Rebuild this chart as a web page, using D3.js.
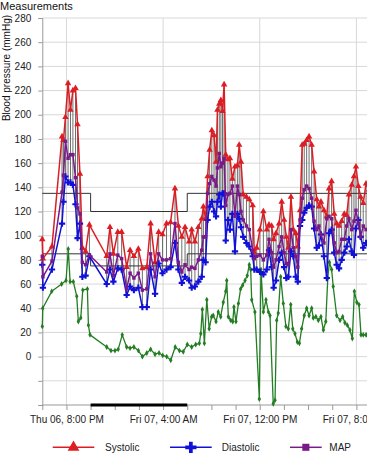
<!DOCTYPE html>
<html><head><meta charset="utf-8">
<script src="https://cdn.jsdelivr.net/npm/d3@7"></script>
<style>html,body{margin:0;padding:0;background:#fff;overflow:hidden}text{font-family:"Liberation Sans",Arial,sans-serif}</style>
</head><body><svg id="c" width="367" height="459"></svg>
<script>
// ---------- data ----------
const startTime = [2014, 2, 6, 18, 0]; // Thu 06, 6:00 PM
const bpMinutes = [0,3,48,98,105,115,128,140,152,165,175,187,199,215,234,320,336,353,375,394,419,436,455,477,497,519,538,560,578,597,617,637,659,676,693,709,729,742,758,775,792,800,811,821,831,842,853,863,870,879,887,895,903,911,922,932,944,957,969,978,987,998,1014,1028,1045,1053,1065,1081,1098,1115,1126,1139,1149,1161,1176,1189,1201,1212,1222,1235,1247,1259,1269,1280,1291,1301,1313,1325,1338,1350,1363,1374,1384,1399,1413,1424,1437,1450,1462,1474,1487,1500,1512,1523,1537,1548,1558,1570,1581,1594,1608,1622];
const systolic = [97,81,91,182,179,198,226,204,220,222,192,151,90,87,109,83,107,85,103,103,74,88,83,89,73,74,110,78,103,101,110,111,139,108,99,107,95,105,95,107,114,124,114,149,171,187,183,161,204,209,212,203,225,167,163,164,147,157,158,175,161,134,132,130,125,86,90,105,120,105,109,108,97,102,110,128,113,99,90,132,105,102,91,121,175,176,179,182,175,153,130,124,128,121,116,139,145,118,110,108,112,118,117,134,142,149,157,141,132,127,143,138];
const diastolic = [76,57,72,110,128,149,144,144,142,126,98,110,66,67,83,60,72,62,73,72,51,58,55,57,41,41,72,52,77,69,72,74,94,72,61,66,63,57,58,62,66,80,78,113,124,128,120,116,128,134,124,135,135,96,113,105,118,87,118,114,107,99,94,91,83,72,72,70,68,72,88,74,57,63,80,86,74,65,66,87,83,66,62,108,113,119,123,125,124,106,90,92,101,83,65,102,105,86,76,73,80,86,91,97,87,84,106,113,99,90,94,92];
const mapValues = [83,66,79,136,150,178,164,167,167,148,123,118,78,76,84,70,85,67,84,81,56,69,65,69,55,56,85,66,85,80,80,81,110,78,70,76,72,74,73,80,88,99,99,135,143,149,146,141,156,168,157,160,164,125,134,135,141,116,141,134,120,113,108,105,88,81,83,84,80,84,97,86,74,80,91,99,86,77,76,105,90,83,74,113,131,138,141,139,131,112,105,108,101,94,114,116,114,94,86,87,97,97,108,114,105,112,121,110,99,108,105,108];
const greenMinutes = [0,2,47,96,118,129,138,154,171,179,191,201,224,229,237,320,341,361,377,397,419,436,455,477,497,519,538,560,580,598,618,638,660,681,700,720,742,762,780,787,795,805,817,829,841,849,863,874,886,899,911,916,924,936,946,952,962,974,985,995,1007,1018,1028,1035,1040,1056,1078,1086,1098,1111,1123,1131,1147,1156,1164,1172,1184,1197,1210,1222,1234,1244,1255,1267,1277,1288,1301,1313,1325,1338,1346,1359,1371,1384,1396,1408,1418,1426,1437,1445,1462,1479,1492,1503,1515,1528,1540,1550,1562,1573,1583,1594,1608,1620];
const greenValues = [25,40,54,60,63,89,62,62,50,29,32,55,56,26,18,8,5,5,6,18,8,7,8,5,0,3,6,2,3,1,0,-3,8,5,4,10,8,10,11,19,39,11,47,23,33,34,29,37,33,45,54,63,33,30,29,41,29,44,56,59,63,67,76,72,47,37,-35,72,37,47,37,34,-39,-36,30,36,66,44,25,23,43,23,19,12,11,23,34,40,34,40,32,33,30,33,22,29,65,78,72,58,34,30,33,28,26,22,15,54,45,43,18,18,18,20];
const limitMinutes = [0,240,720,1800];
const upperLimit = [135,120,135,135];
const lowerLimit = [85,75,85,85];
const nightMinutes = [240,720];
const yTicks = [-40,-20,0,20,40,60,80,100,120,140,160,180,200,220,240,260,280];
const yLabels = [0,20,40,60,80,100,120,140,160,180,200,220,240,260,280];
const legendNames = ["Systolic","Diastolic","MAP"];
const colors = {sys:"#dc1e24", dia:"#1010d8", map:"#7a1a8a", green:"#237d23"};

// ---------- setup ----------
const svg = d3.select("#c");
const t0 = new Date(...startTime);
const toDate = m => new Date(t0.getTime() + m*60000);
const x = d3.scaleTime().domain([t0, toDate(28*60)]).range([42.3, 42.3 + 28*12.08]);
const y = d3.scaleLinear().domain([-40, 280]).range([405, 18]);
const X0 = 42.3, XR = 367;

const bp = bpMinutes.map((m,i)=>({t:toDate(m), s:systolic[i], d:diastolic[i], p:mapValues[i]}));
const gr = greenMinutes.map((m,i)=>({t:toDate(m), v:greenValues[i]}));

// grid
const grid = svg.append("g");
grid.selectAll("line.h").data(yTicks.filter(v=>v>-40)).join("line")
  .attr("x1", X0).attr("x2", XR).attr("y1", d=>y(d)).attr("y2", d=>y(d))
  .attr("stroke", "#d8d8d8").attr("stroke-width", 1);
const majorTicks = d3.range(2*60, 30*60, 8*60).map(toDate);
grid.selectAll("line.v").data(majorTicks).join("line")
  .attr("x1", d=>x(d)).attr("x2", d=>x(d)).attr("y1", y(280)).attr("y2", y(-40))
  .attr("stroke", "#d8d8d8").attr("stroke-width", 1);

// y axis
const yAxis = svg.append("g").attr("transform", `translate(${X0},0)`)
  .call(d3.axisLeft(y).tickValues(yTicks).tickSize(4).tickFormat(d=>yLabels.includes(d)?d:""));
yAxis.select(".domain").attr("stroke", "#999");
yAxis.selectAll(".tick line").attr("stroke", "#999");
yAxis.selectAll(".tick text").attr("x", -11).attr("font-size", 10).attr("fill", "#222")
  .attr("font-family", '"Liberation Sans",Arial,sans-serif');

// x axis
const minorTicks = d3.range(0, 30*60, 2*60).map(toDate);
const fmt = d3.timeFormat("%a %d, %-I:%M %p");
const xAxis = svg.append("g").attr("transform", `translate(0,${y(-40)})`)
  .call(d3.axisBottom(x).tickValues(minorTicks).tickSize(5)
    .tickFormat(d=>majorTicks.some(m=>+m===+d)?fmt(d):""));
xAxis.select(".domain").attr("stroke", "#999").attr("d", `M${X0},0H${XR+20}`);
xAxis.selectAll(".tick line").attr("stroke", "#999");
xAxis.selectAll(".tick text").attr("y", 11).attr("font-size", 10).attr("fill", "#222")
  .attr("font-family", '"Liberation Sans",Arial,sans-serif');

// night bar
svg.append("line").attr("x1", x(toDate(nightMinutes[0]))).attr("x2", x(toDate(nightMinutes[1])))
  .attr("y1", y(-40)).attr("y2", y(-40)).attr("stroke", "#000").attr("stroke-width", 3.2);

// range lines
svg.append("g").selectAll("line").data(bp).join("line")
  .attr("x1", d=>x(d.t)).attr("x2", d=>x(d.t)).attr("y1", d=>y(d.s)).attr("y2", d=>y(d.d))
  .attr("stroke", "#6e6e6e").attr("stroke-width", 1);

// limits
const stepLine = d3.line().x(d=>x(toDate(d[0]))).y(d=>y(d[1])).curve(d3.curveStepAfter);
[upperLimit, lowerLimit].forEach(arr=>{
  svg.append("path").datum(limitMinutes.map((m,i)=>[m,arr[i]]))
    .attr("d", stepLine).attr("fill","none").attr("stroke","#333").attr("stroke-width",1);
});

// series
function drawSeries(data, acc, color, sym, size, width){
  const g = svg.append("g");
  g.append("path").datum(data)
    .attr("d", d3.line().x(d=>x(d.t)).y(d=>y(acc(d))))
    .attr("fill","none").attr("stroke",color).attr("stroke-width",width).attr("stroke-linejoin","round");
  g.selectAll("path.m").data(data).join("path").attr("class","m")
    .attr("transform", d=>`translate(${x(d.t)},${y(acc(d))})`)
    .attr("d", d3.symbol().type(sym).size(size)).attr("fill", color);
}
drawSeries(gr, d=>d.v, colors.green, d3.symbolDiamond, 10, 1.3);
drawSeries(bp, d=>d.s, colors.sys, d3.symbolTriangle, 18, 1.5);
drawSeries(bp, d=>d.d, colors.dia, d3.symbolCross, 22, 1.5);
drawSeries(bp, d=>d.p, colors.map, d3.symbolSquare, 12, 1.5);

// titles
svg.append("text").attr("x", 0).attr("y", 10).attr("font-size", 11).attr("fill","#111").text("Measurements");
svg.append("text").attr("transform", "translate(10,68) rotate(-90)").attr("text-anchor","middle")
  .attr("font-size", 10).attr("fill","#111").text("Blood pressure (mmHg)");

// legend
const legendItems = [
  {name:legendNames[0], c:colors.sys, sym:d3.symbolTriangle, size:60, x1:52.7, x2:94.3, tx:105},
  {name:legendNames[1], c:colors.dia, sym:d3.symbolCross, size:70, x1:170, x2:211.7, tx:221.7},
  {name:legendNames[2], c:colors.map, sym:d3.symbolSquare, size:50, x1:290, x2:321.7, tx:329.3}
];
const lg = svg.append("g");
legendItems.forEach(it=>{
  lg.append("line").attr("x1",it.x1).attr("x2",it.x2).attr("y1",447.3).attr("y2",447.3)
    .attr("stroke",it.c).attr("stroke-width",1.5);
  lg.append("path").attr("transform",`translate(${(it.x1+it.x2)/2},447.3)`)
    .attr("d", d3.symbol().type(it.sym).size(it.size)).attr("fill",it.c);
  lg.append("text").attr("x",it.tx).attr("y",451).attr("font-size",10).attr("fill","#222").text(it.name);
});
</script></body></html>
